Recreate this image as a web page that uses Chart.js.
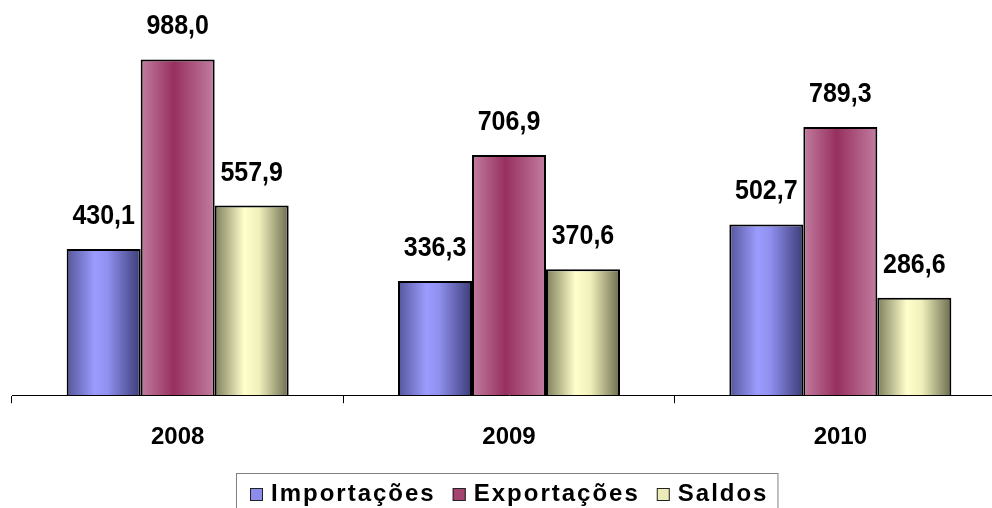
<!DOCTYPE html>
<html>
<head>
<meta charset="utf-8">
<script src="https://cdn.jsdelivr.net/npm/chart.js@4.4.1/dist/chart.umd.min.js"></script>
<style>
    html, body { margin: 0; padding: 0; overflow: hidden; background: #fff; }
    canvas { display: block; }
</style>
</head>
<body>
<canvas id="chart" width="1008" height="508"></canvas>
<script>
var anos = ['2008', '2009', '2010'];
var importacoes = [430.1, 336.3, 502.7];
var exportacoes = [988.0, 706.9, 789.3];
var saldos = [557.9, 370.6, 286.6];

var fonte = '"Liberation Sans", Arial, sans-serif';
var catPct = 0.67;
var coresLegenda = ['#8c8cec', '#a4436f', '#ececb8'];

// gradiente horizontal em cada barra (efeito cilindro)
function gradiente(stops, solida) {
    return function (c) {
        var x = c.chart.scales.x;
        if (!x || c.dataIndex === undefined || c.type !== 'data') return solida;
        var cat = x.getPixelForValue(1) - x.getPixelForValue(0);
        var w = cat * catPct / 3;
        var cx = x.getPixelForValue(c.dataIndex) + (c.datasetIndex - 1) * w;
        if (!isFinite(cx) || !isFinite(w) || w <= 0) return solida;
        var g = c.chart.ctx.createLinearGradient(cx - w / 2, 0, cx + w / 2, 0);
        stops.forEach(function (s) { g.addColorStop(s[0], s[1]); });
        return g;
    };
}

var rotulos = {
    id: 'rotulos',
    afterDatasetsDraw: function (chart) {
        var ctx = chart.ctx;
        chart.data.datasets.forEach(function (ds, i) {
            chart.getDatasetMeta(i).data.forEach(function (bar, j) {
                var txt = ds.data[j].toFixed(1).replace('.', ',');
                ctx.save();
                ctx.font = 'bold 25px ' + fonte;
                ctx.fillStyle = '#000';
                ctx.textAlign = 'center';
                ctx.textBaseline = 'alphabetic';
                ctx.translate(bar.x, bar.y - 25);
                ctx.scale(1, 1.12);
                ctx.fillText(txt, 0, 0);
                ctx.restore();
            });
        });
    },
    afterDraw: function (chart) {
        // legenda desenhada à mão, com moldura
        var ctx = chart.ctx;
        var area = chart.chartArea;
        ctx.save();
        ctx.font = 'bold 24px ' + fonte;
        ctx.letterSpacing = '2px';
        var box = 13, gap = 8, esp = 17;
        var larguras = chart.data.datasets.map(function (ds) { return ctx.measureText(ds.label).width; });
        var total = larguras.reduce(function (a, b) { return a + b; }, 0) + 3 * (box + gap) + 2 * esp;
        var x = Math.round((area.left + area.right) / 2 - total / 2);
        var base = 501;
        ctx.strokeStyle = '#808080';
        ctx.lineWidth = 1;
        ctx.strokeRect(x - 13.5, 473.5, total + 23, 60);
        chart.data.datasets.forEach(function (ds, i) {
            ctx.fillStyle = coresLegenda[i];
            ctx.fillRect(x, base - box, box, box);
            ctx.strokeStyle = '#222';
            ctx.strokeRect(x + 0.5, base - box + 0.5, box - 1, box - 1);
            ctx.fillStyle = '#000';
            ctx.textAlign = 'left';
            ctx.textBaseline = 'alphabetic';
            ctx.fillText(ds.label, x + box + gap, base);
            x += box + gap + larguras[i] + esp;
        });
        ctx.restore();
    }
};

var ctx = document.getElementById('chart').getContext('2d');
var chart = new Chart(ctx, {
    type: 'bar',
    data: {
        labels: anos,
        datasets: [{
            label: 'Importações',
            data: importacoes,
            backgroundColor: gradiente([[0, '#55559a'], [0.38, '#9c9cff'], [0.55, '#9090f0'], [1, '#3c3c78']], '#9999ff'),
            borderColor: '#000',
            borderWidth: 2
        }, {
            label: 'Exportações',
            data: exportacoes,
            backgroundColor: gradiente([[0, '#c27d9f'], [0.45, '#97305f'], [1, '#c27d9f']], '#993366'),
            borderColor: '#000',
            borderWidth: 2
        }, {
            label: 'Saldos',
            data: saldos,
            backgroundColor: gradiente([[0, '#7e7e5c'], [0.4, '#ffffcc'], [0.6, '#f0f0bc'], [1, '#6c6c4e']], '#ffffcc'),
            borderColor: '#000',
            borderWidth: 2
        }]
    },
    options: {
        responsive: false,
        animation: false,
        layout: { padding: { left: 12, right: 2, top: 0, bottom: 36 } },
        datasets: {
            bar: { barPercentage: 1, categoryPercentage: catPct }
        },
        scales: {
            x: {
                grid: { drawOnChartArea: false, drawTicks: true, tickLength: 8, color: '#000', lineWidth: 1 },
                border: { display: true, color: '#000', width: 1 },
                ticks: { color: '#000', padding: 20, font: { family: fonte, size: 24, weight: 'bold' } }
            },
            y: {
                display: false,
                min: 0,
                max: 1163
            }
        },
        plugins: {
            tooltip: { enabled: false },
            legend: { display: false }
        }
    },
    plugins: [rotulos]
});
</script>
</body>
</html>
